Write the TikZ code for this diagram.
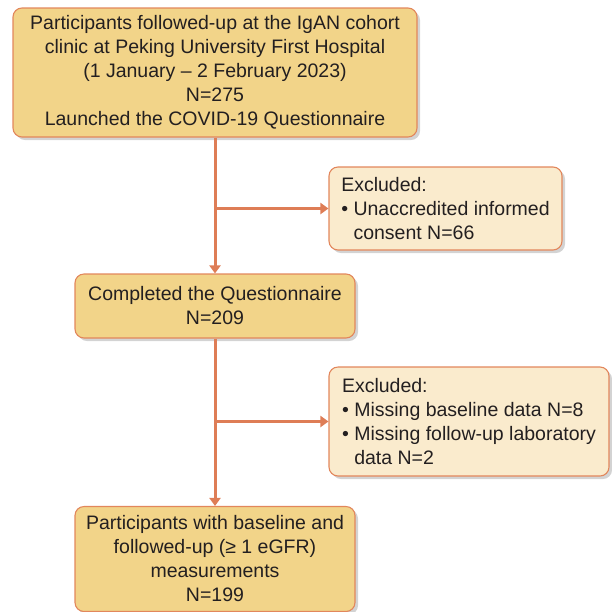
\documentclass[tikz,border=0pt]{standalone}
\usepackage{fontspec}
\setmainfont{Liberation Sans}
\usetikzlibrary{arrows.meta,shadows}
\definecolor{mainfill}{HTML}{F2D489}
\definecolor{exclfill}{HTML}{FAEBCD}
\definecolor{edgeorange}{HTML}{E2875C}
\definecolor{arroworange}{HTML}{DE7D56}
\definecolor{textgray}{HTML}{231F20}
\tikzset{
  boxbase/.style={draw=edgeorange, line width=1.1pt, rounded corners=9pt,
    text=textgray, align=center, inner sep=0pt,
    font=\fontsize{19.5}{24}\selectfont,
    drop shadow={opacity=0.35, shadow xshift=3pt, shadow yshift=-3pt}},
  mainbox/.style={boxbase, fill=mainfill},
  exclbox/.style={boxbase, fill=exclfill, align=left},
  flowarrow/.style={draw=arroworange, line width=3pt,
    -{Triangle[width=11pt,length=8pt]}}
}
\begin{document}
\begin{tikzpicture}[x=1pt,y=-1pt]
\useasboundingbox (0,0) rectangle (612,611);
\node[mainbox, minimum width=404pt, minimum height=129pt] (b1) at (215,72.5)
  {Participants followed-up at the IgAN cohort\\
   clinic at Peking University First Hospital\\
   (1 January -- 2 February 2023)\\
   N=275\\
   Launched the COVID-19 Questionnaire};
\node[exclbox, minimum width=233pt, minimum height=83pt] (e1) at (445.5,208.5)
  {Excluded:\\
   \textbullet\ Unaccredited informed\\
   \hphantom{\textbullet\ }consent N=66};
\node[mainbox, minimum width=280pt, minimum height=64pt] (b2) at (215,306)
  {Completed the Questionnaire\\N=209};
\node[exclbox, minimum width=280pt, minimum height=109pt] (e2) at (469,421.5)
  {Excluded:\\
   \textbullet\ Missing baseline data N=8\\
   \textbullet\ Missing follow-up laboratory\\
   \hphantom{\textbullet\ }data N=2};
\node[mainbox, minimum width=280pt, minimum height=105pt] (b3) at (215,559)
  {Participants with baseline and\\
   followed-up (≥ 1 eGFR)\\
   measurements\\
   N=199};
\coordinate (j1) at (b1.south |- e1.west);
\coordinate (j2) at (b2.south |- e2.west);
\draw[flowarrow] (b1.south) -- (b2.north);
\draw[flowarrow] (j1) -- (e1.west);
\draw[flowarrow] (b2.south) -- (b3.north);
\draw[flowarrow] (j2) -- (e2.west);
\end{tikzpicture}
\end{document}
